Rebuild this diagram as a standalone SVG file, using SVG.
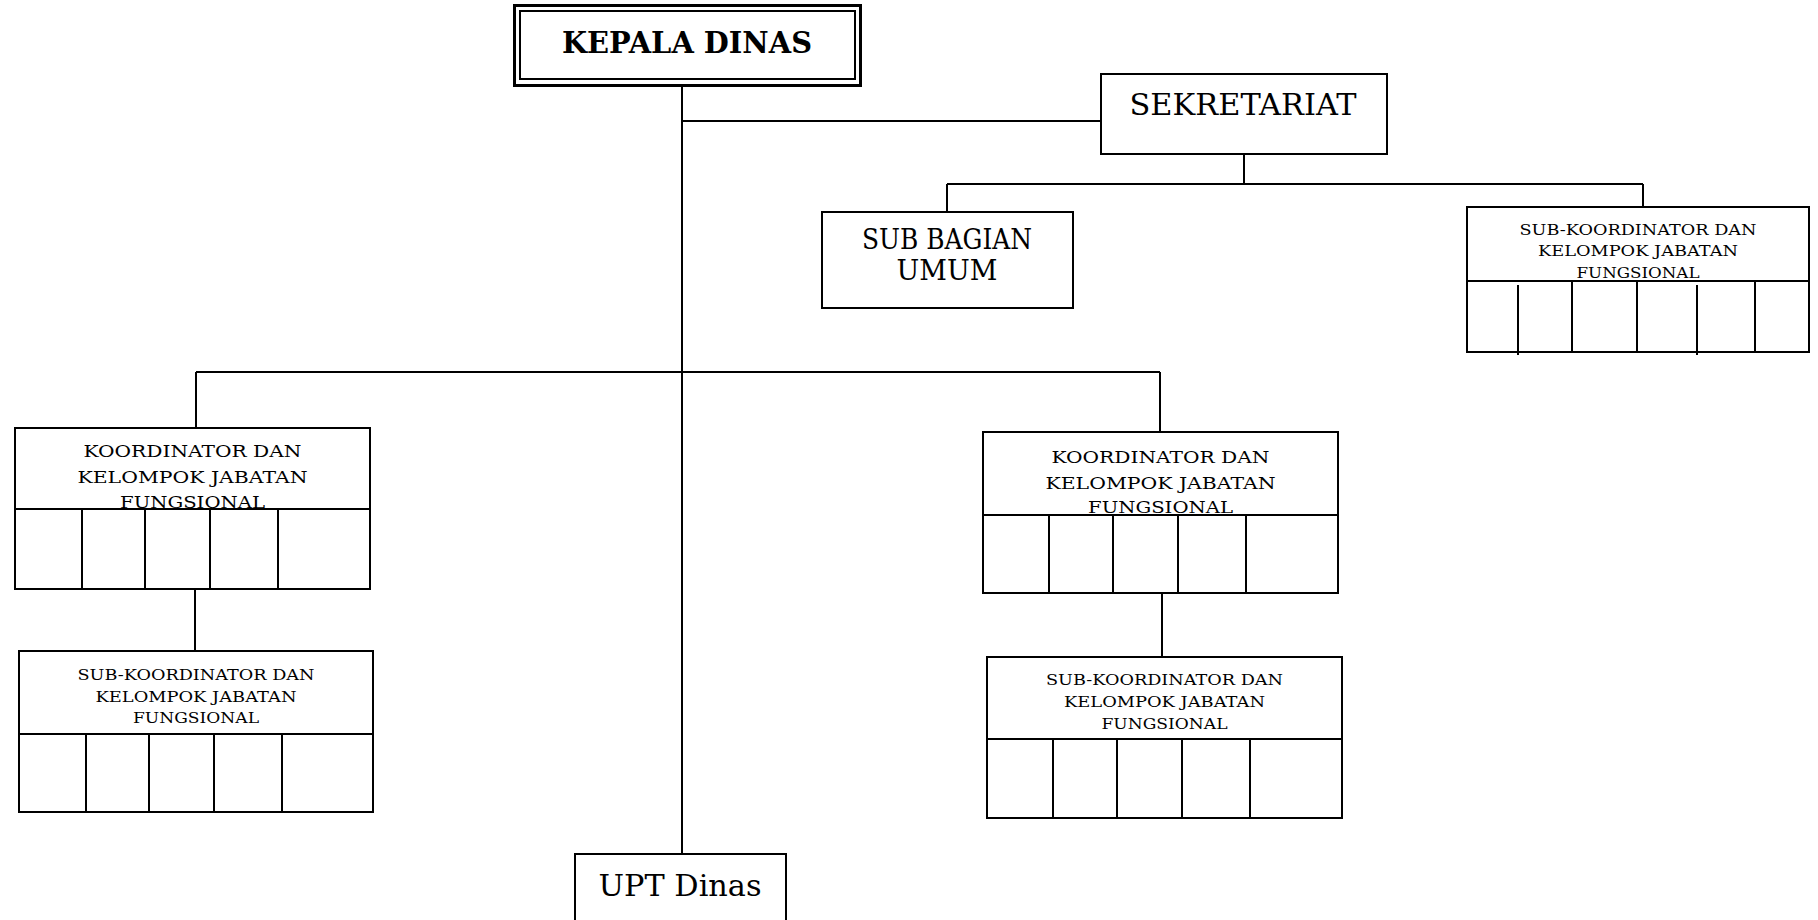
<svg xmlns="http://www.w3.org/2000/svg" width="1818" height="920" viewBox="0 0 1818 920">
<style>
.bx{fill:#fff;stroke:#000;stroke-width:2}
.ln{stroke:#000;stroke-width:2;fill:none}
.t{font-family:"DejaVu Serif","Liberation Serif",serif;fill:#000;text-anchor:middle}
.big{font-size:30px}
.k{font-size:17px}
.s{font-size:15.5px}
</style>
<rect width="1818" height="920" fill="#fff"/>
<g id="connectors">
<path class="ln" d="M682 86V854"/>
<path class="ln" d="M682 121H1101"/>
<path class="ln" d="M1244 154V184"/>
<path class="ln" d="M947 184H1643"/>
<path class="ln" d="M947 184V212"/>
<path class="ln" d="M1643 184V207"/>
<path class="ln" d="M196 372H1160"/>
<path class="ln" d="M196 372V428"/>
<path class="ln" d="M1160 372V432"/>
<path class="ln" d="M195 589V651"/>
<path class="ln" d="M1162 593V657"/>
</g>
<g id="kepala-dinas">
<rect x="514.5" y="5.5" width="346" height="80" fill="#fff" stroke="#000" stroke-width="3"/>
<rect x="520" y="11" width="335" height="68" fill="none" stroke="#000" stroke-width="2"/>
<text class="t" x="687" y="53" font-size="29" font-weight="bold" textLength="250" lengthAdjust="spacingAndGlyphs">KEPALA DINAS</text>
</g>
<g id="sekretariat">
<rect class="bx" x="1101" y="74" width="286" height="80"/>
<text class="t big" x="1243" y="115" textLength="227" lengthAdjust="spacingAndGlyphs">SEKRETARIAT</text>
</g>
<g id="sub-bagian-umum">
<rect class="bx" x="822" y="212" width="251" height="96"/>
<text class="t" font-size="27" x="947" y="249" textLength="170" lengthAdjust="spacingAndGlyphs">SUB BAGIAN</text>
<text class="t" font-size="27" x="947" y="280">UMUM</text>
</g>
<g id="sub-koordinator-sekretariat">
<rect class="bx" x="1467" y="207" width="342" height="145"/>
<path class="ln" d="M1467 281H1809M1518 285V355M1572 281V352M1637 281V352M1697 285V355M1755 281V352"/>
<text class="t s" x="1638" y="235" textLength="237" lengthAdjust="spacingAndGlyphs">SUB-KOORDINATOR DAN</text>
<text class="t s" x="1638" y="256" textLength="200" lengthAdjust="spacingAndGlyphs">KELOMPOK JABATAN</text>
<text class="t s" x="1638" y="278" textLength="123" lengthAdjust="spacingAndGlyphs">FUNGSIONAL</text>
</g>
<g id="koordinator-kiri">
<rect class="bx" x="15" y="428" width="355" height="161"/>
<path class="ln" d="M15 509H370M82 509V589M145 509V589M210 509V589M278 509V589"/>
<text class="t k" x="192.5" y="457" textLength="218" lengthAdjust="spacingAndGlyphs">KOORDINATOR DAN</text>
<text class="t k" x="192.5" y="483" textLength="230" lengthAdjust="spacingAndGlyphs">KELOMPOK JABATAN</text>
<text class="t k" x="192.5" y="508" textLength="145" lengthAdjust="spacingAndGlyphs">FUNGSIONAL</text>
</g>
<g id="sub-koordinator-kiri">
<rect class="bx" x="19" y="651" width="354" height="161"/>
<path class="ln" d="M19 734H373M86 734V812M149 734V812M214 734V812M282 734V812"/>
<text class="t s" x="196" y="680" textLength="237" lengthAdjust="spacingAndGlyphs">SUB-KOORDINATOR DAN</text>
<text class="t s" x="196" y="702" textLength="201" lengthAdjust="spacingAndGlyphs">KELOMPOK JABATAN</text>
<text class="t s" x="196" y="723" textLength="126" lengthAdjust="spacingAndGlyphs">FUNGSIONAL</text>
</g>
<g id="koordinator-kanan">
<rect class="bx" x="983" y="432" width="355" height="161"/>
<path class="ln" d="M983 515H1338M1049 515V593M1113 515V593M1178 515V593M1246 515V593"/>
<text class="t k" x="1160.5" y="463" textLength="218" lengthAdjust="spacingAndGlyphs">KOORDINATOR DAN</text>
<text class="t k" x="1160.5" y="489" textLength="230" lengthAdjust="spacingAndGlyphs">KELOMPOK JABATAN</text>
<text class="t k" x="1160.5" y="513" textLength="145" lengthAdjust="spacingAndGlyphs">FUNGSIONAL</text>
</g>
<g id="sub-koordinator-kanan">
<rect class="bx" x="987" y="657" width="355" height="161"/>
<path class="ln" d="M987 739H1342M1053 739V818M1117 739V818M1182 739V818M1250 739V818"/>
<text class="t s" x="1164.5" y="685" textLength="237" lengthAdjust="spacingAndGlyphs">SUB-KOORDINATOR DAN</text>
<text class="t s" x="1164.5" y="707" textLength="201" lengthAdjust="spacingAndGlyphs">KELOMPOK JABATAN</text>
<text class="t s" x="1164.5" y="729" textLength="126" lengthAdjust="spacingAndGlyphs">FUNGSIONAL</text>
</g>
<g id="upt-dinas">
<rect class="bx" x="575" y="854" width="211" height="80"/>
<text class="t" font-size="29" x="680" y="896" textLength="163" lengthAdjust="spacingAndGlyphs">UPT Dinas</text>
</g>
</svg>
